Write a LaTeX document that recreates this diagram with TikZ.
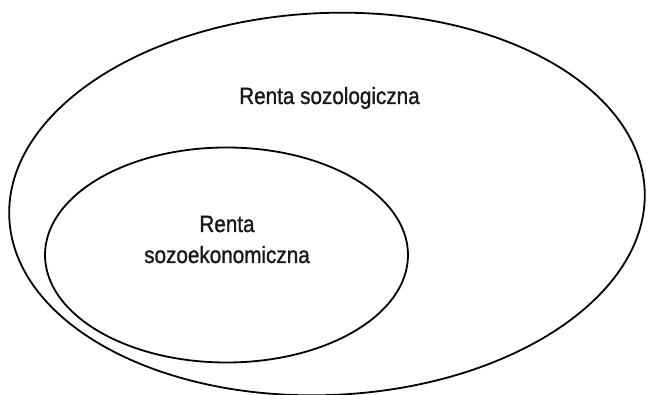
\documentclass[tikz,border=0pt]{standalone}
\usepackage{fontspec}
\setmainfont[FakeStretch=0.88,FakeBold=1.2]{Liberation Sans}
\begin{document}
\begin{tikzpicture}[x=1pt,y=1pt,
  ring/.style={draw=black,line width=1.8pt},
  lbl/.style={font=\fontsize{23.5}{28}\selectfont,anchor=base,inner sep=0pt,text=black!90}]
\useasboundingbox (0,0) rectangle (647,395);
\coordinate (oc) at (327,191);
\coordinate (ic) at (226.5,140);
\draw[ring,rotate around={2.5:(oc)}] (oc) ellipse [x radius=318,y radius=191];
\draw[ring] (ic) ellipse [x radius=181.5,y radius=107.5];
\node[lbl] (outer) at (329.5,291) {Renta sozologiczna};
\node[lbl] (inner1) at (227,163) {Renta};
\node[lbl] (inner2) at (227,132) {sozoekonomiczna};
\end{tikzpicture}
\end{document}
